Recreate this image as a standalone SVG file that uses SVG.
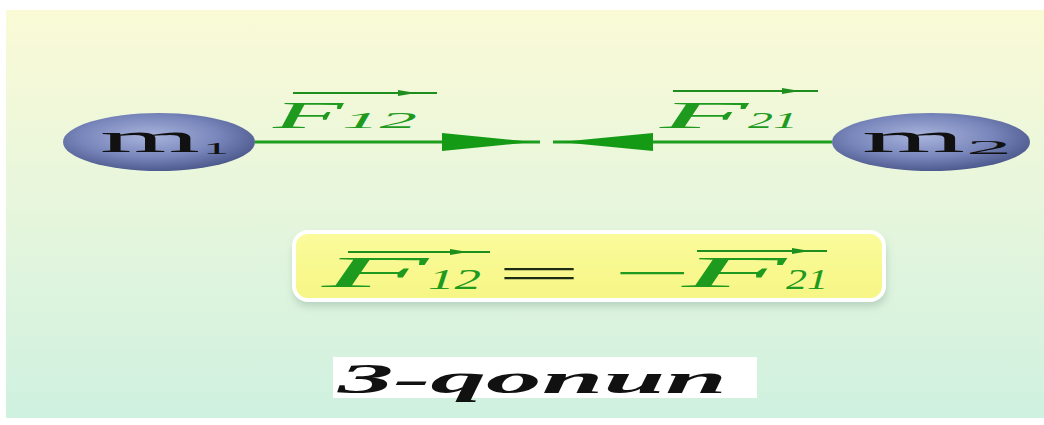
<svg xmlns="http://www.w3.org/2000/svg" width="1044" height="425" viewBox="0 0 1044 425">
  <defs>
    <linearGradient id="bg" x1="0" y1="0" x2="0" y2="1">
      <stop offset="0" stop-color="#fafad6"/>
      <stop offset="0.45" stop-color="#e8f6dc"/>
      <stop offset="1" stop-color="#cff1e0"/>
    </linearGradient>
    <radialGradient id="ball" cx="0.45" cy="0.4" r="0.6">
      <stop offset="0" stop-color="#a9b4dc"/>
      <stop offset="0.6" stop-color="#7886bb"/>
      <stop offset="1" stop-color="#4e5b8f"/>
    </radialGradient>
    <linearGradient id="boxfill" x1="0" y1="0" x2="0" y2="1">
      <stop offset="0" stop-color="#fbfb9c"/>
      <stop offset="1" stop-color="#f6f685"/>
    </linearGradient>
    <filter id="shadow" x="-10%" y="-30%" width="120%" height="170%">
      <feGaussianBlur stdDeviation="4"/>
    </filter>
    <marker id="head" viewBox="0 0 10 10" refX="10" refY="5" markerWidth="10" markerHeight="10" markerUnits="userSpaceOnUse" orient="auto">
      <path d="M0,0 L10,5 L0,10 z" fill="#1a9a1a"/>
    </marker>
    <style>
      .mass { font-family: "Liberation Serif", serif; fill: #111; }
      .vec { font-family: "Liberation Serif", serif; font-style: italic; fill: #1e9a1e; }
      .conn { stroke: #1e9e1e; stroke-width: 3; fill: none; }
      .ahead { fill: #159a15; }
      .ov { stroke: #1e8e1e; stroke-width: 2.2; fill: none; }
      .ovh { fill: #1e8e1e; }
      .cap { font-family: "Liberation Serif", serif; font-style: italic; font-weight: bold; fill: #111; }
    </style>
  </defs>

  <rect x="0" y="0" width="1044" height="425" fill="#ffffff"/>
  <rect x="6" y="10" width="1038" height="408" fill="url(#bg)"/>

  <g id="connectors">
    <line class="conn" x1="255" y1="142" x2="540" y2="142"/>
    <path class="ahead" d="M442,133 L533,142 L442,151 z"/>
    <line class="conn" x1="832" y1="142" x2="553" y2="142"/>
    <path class="ahead" d="M653,133 L560,142 L653,151 z"/>
  </g>

  <g id="node-m1">
    <ellipse cx="159" cy="142" rx="96" ry="29" fill="url(#ball)"/>
    <text class="mass" x="100" y="152" font-size="42" textLength="100" lengthAdjust="spacingAndGlyphs">m</text>
    <text class="mass" x="203" y="154" font-size="17" textLength="26" lengthAdjust="spacingAndGlyphs">1</text>
  </g>

  <g id="node-m2">
    <ellipse cx="931" cy="142" rx="99" ry="29" fill="url(#ball)"/>
    <text class="mass" x="862" y="152" font-size="42" textLength="103" lengthAdjust="spacingAndGlyphs">m</text>
    <text class="mass" x="966" y="154" font-size="19" textLength="46" lengthAdjust="spacingAndGlyphs">2</text>
  </g>

  <g id="label-F12">
    <line class="ov" x1="293" y1="93" x2="437" y2="93"/>
    <path class="ovh" d="M398,90 L416,93 L398,96 z"/>
    <text class="vec" x="273" y="128" font-size="38" textLength="70" lengthAdjust="spacingAndGlyphs">F</text>
    <text class="vec" x="342" y="128" font-size="24" textLength="75" lengthAdjust="spacingAndGlyphs">12</text>
  </g>

  <g id="label-F21">
    <line class="ov" x1="673" y1="91" x2="818" y2="91"/>
    <path class="ovh" d="M782,88 L800,91 L782,94 z"/>
    <text class="vec" x="660" y="128" font-size="38" textLength="88" lengthAdjust="spacingAndGlyphs">F</text>
    <text class="vec" x="748" y="128" font-size="24" textLength="50" lengthAdjust="spacingAndGlyphs">21</text>
  </g>

  <g id="equation">
    <rect x="294" y="238" width="592" height="68" rx="14" fill="#9ab8a8" opacity="0.6" filter="url(#shadow)"/>
    <rect x="294" y="232" width="590" height="68" rx="14" fill="url(#boxfill)" stroke="#ffffff" stroke-width="4"/>
    <line class="ov" x1="348" y1="252" x2="490" y2="252"/>
    <path class="ovh" d="M450,249 L468,252 L450,255 z"/>
    <text class="vec" x="322" y="287" font-size="44" textLength="106" lengthAdjust="spacingAndGlyphs">F</text>
    <text class="vec" x="428" y="289" font-size="30" textLength="53" lengthAdjust="spacingAndGlyphs">12</text>
    <text x="497" y="288" font-family="Liberation Serif, serif" font-size="44" fill="#1d2d14" textLength="84" lengthAdjust="spacingAndGlyphs">=</text>
    <text x="614" y="288" font-family="Liberation Serif, serif" font-size="44" fill="#1e9a1e" textLength="77" lengthAdjust="spacingAndGlyphs">−</text>
    <line class="ov" x1="697" y1="251" x2="827" y2="251"/>
    <path class="ovh" d="M792,248 L810,251 L792,254 z"/>
    <text class="vec" x="682" y="287" font-size="44" textLength="104" lengthAdjust="spacingAndGlyphs">F</text>
    <text class="vec" x="786" y="289" font-size="30" textLength="42" lengthAdjust="spacingAndGlyphs">21</text>
  </g>

  <g id="caption">
    <rect x="333" y="357" width="424" height="41" fill="#ffffff"/>
    <text class="cap" x="338" y="393" font-size="42" textLength="389" lengthAdjust="spacingAndGlyphs">3-qonun</text>
  </g>
</svg>
